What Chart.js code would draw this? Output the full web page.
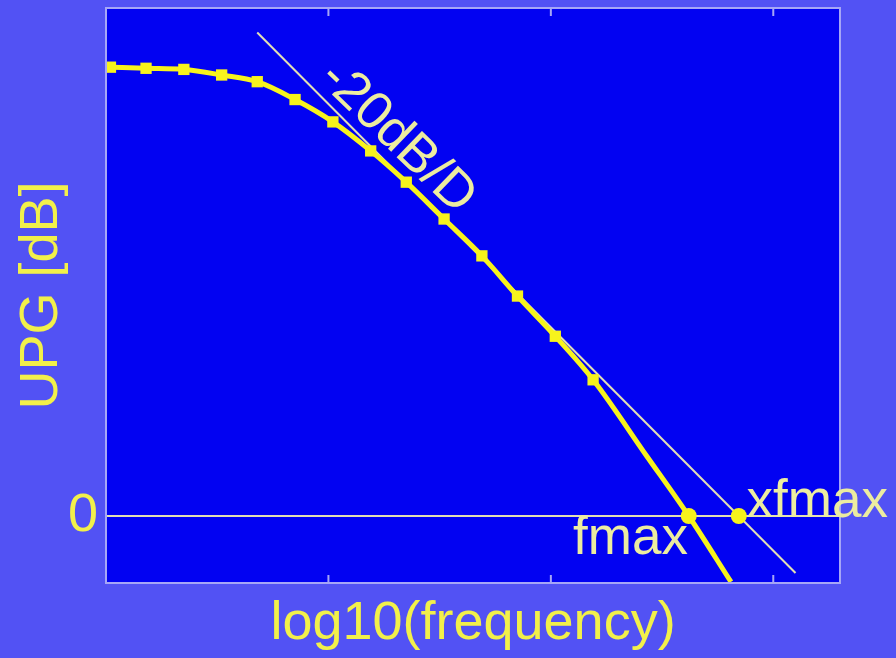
<!DOCTYPE html>
<html>
<head>
<meta charset="utf-8">
<script src="https://cdn.jsdelivr.net/npm/chart.js@4.4.1/dist/chart.umd.min.js"></script>
<style>
  html, body { margin: 0; padding: 0; background: #5252f4; }
  #wrap { width: 896px; height: 658px; }
</style>
</head>
<body>
<div id="wrap"><canvas id="upgChart" width="896" height="658"></canvas></div>
<script>
// log10(frequency) in decades from the left edge, UPG in dB
const curveX = [0.02, 0.18, 0.35, 0.52, 0.68, 0.85, 1.02, 1.19, 1.35, 1.52, 1.69, 1.85, 2.02, 2.19, 2.43, 2.62, 2.81];
const curveY = [40.2, 40.1, 40.0, 39.5, 38.9, 37.3, 35.3, 32.7, 29.9, 26.6, 23.3, 19.7, 16.1, 12.2, 5.4, 0, -5.9];
const curveMarked = 14; // first points carry square markers

const slopeX = [0.68, 3.10];     // -20 dB/decade asymptote
const slopeY = [43.3, -5.1];

const zeroX = [0, 3.3];
const zeroY = [0, 0];

const crossNames = ['fmax', 'xfmax'];
const crossX = [2.62, 2.845];
const crossY = [0, 0];

const xTicks = [1, 2, 3];
const yTicks = [0];

const FONT = '"Liberation Sans", Arial, sans-serif';
const AXIS_TEXT = '#f2f04a';
const NOTE_TEXT = '#ececa0';
const YELLOW = '#f7f31c';
const PALE = '#e2e0b4';

const toPts = (xs, ys) => xs.map((x, i) => ({ x: x, y: ys[i] }));

// text notes placed in data units
const notes = [
    { text: '-20dB/D', x: 1.31, y: 33.9, rot: 44, align: 'center', base: 'middle' },
    { text: crossNames[0], x: 2.10, y: -3.4, rot: 0, align: 'left', base: 'alphabetic' },
    { text: crossNames[1], x: 2.88, y: -0.1, rot: 0, align: 'left', base: 'alphabetic' }
];

const framePlugin = {
    id: 'frame',
    beforeDraw(chart) {
        const { ctx, chartArea: a } = chart;
        ctx.save();
        ctx.fillStyle = '#5252f4';
        ctx.fillRect(0, 0, chart.width, chart.height);
        ctx.fillStyle = '#0202f2';
        ctx.fillRect(a.left, a.top, a.right - a.left, a.bottom - a.top);
        ctx.restore();
    },
    afterDatasetsDraw(chart) {
        const { ctx, chartArea: a, scales } = chart;
        ctx.save();
        // inward tick marks, top and bottom
        ctx.strokeStyle = '#a6a6f6';
        ctx.lineWidth = 2;
        xTicks.forEach(v => {
            const px = scales.x.getPixelForValue(v);
            ctx.beginPath();
            ctx.moveTo(px, a.bottom); ctx.lineTo(px, a.bottom - 8);
            ctx.moveTo(px, a.top); ctx.lineTo(px, a.top + 8);
            ctx.stroke();
        });
        ctx.strokeRect(a.left, a.top, a.right - a.left, a.bottom - a.top);

        ctx.font = '53px ' + FONT;
        ctx.fillStyle = NOTE_TEXT;
        notes.forEach(n => {
            ctx.save();
            ctx.translate(scales.x.getPixelForValue(n.x), scales.y.getPixelForValue(n.y));
            ctx.rotate(n.rot * Math.PI / 180);
            ctx.textAlign = n.align;
            ctx.textBaseline = n.base;
            ctx.fillText(n.text, 0, 0);
            ctx.restore();
        });
        ctx.restore();
    }
};

const ctx = document.getElementById('upgChart').getContext('2d');
new Chart(ctx, {
    type: 'scatter',
    data: {
        datasets: [
            {
                label: 'crossings',
                data: toPts(crossX, crossY),
                showLine: false,
                pointStyle: 'circle',
                pointRadius: 8,
                backgroundColor: YELLOW,
                borderColor: YELLOW,
                borderWidth: 0
            },
            {
                label: 'UPG',
                data: toPts(curveX, curveY),
                showLine: true,
                borderColor: YELLOW,
                borderWidth: 5,
                cubicInterpolationMode: 'monotone',
                pointStyle: 'rect',
                pointRadius: curveX.map((_, i) => i < curveMarked ? 8 : 0),
                backgroundColor: YELLOW,
                pointBorderWidth: 0
            },
            {
                label: '-20dB/D',
                data: toPts(slopeX, slopeY),
                showLine: true,
                borderColor: PALE,
                borderWidth: 2,
                pointRadius: 0
            },
            {
                label: 'zero',
                data: toPts(zeroX, zeroY),
                showLine: true,
                borderColor: PALE,
                borderWidth: 2,
                pointRadius: 0
            }
        ]
    },
    options: {
        responsive: false,
        animation: false,
        layout: { padding: { top: 8, right: 56, left: 0, bottom: 0 } },
        plugins: {
            legend: { display: false },
            tooltip: { enabled: false }
        },
        scales: {
            x: {
                type: 'linear',
                min: 0,
                max: 3.3,
                grid: { display: false },
                border: { display: false },
                ticks: { display: false },
                title: {
                    display: true,
                    text: 'log10(frequency)',
                    color: AXIS_TEXT,
                    font: { family: FONT, size: 54 },
                    padding: { top: 0, bottom: 1 }
                },
                afterFit(scale) {
                    scale.height = 75;
                    scale.paddingLeft = 0;
                    scale.paddingRight = 0;
                }
            },
            y: {
                type: 'linear',
                min: -6,
                max: 45.5,
                grid: { display: false, drawTicks: false },
                border: { display: false },
                afterBuildTicks(scale) {
                    scale.ticks = yTicks.map(v => ({ value: v }));
                },
                ticks: {
                    color: AXIS_TEXT,
                    font: { family: FONT, size: 54 },
                    padding: 8
                },
                title: {
                    display: true,
                    text: 'UPG [dB]',
                    color: AXIS_TEXT,
                    font: { family: FONT, size: 54 },
                    padding: { top: 10, bottom: 0 }
                },
                afterFit(scale) {
                    scale.width = 106;
                    scale.paddingTop = 0;
                    scale.paddingBottom = 0;
                }
            }
        }
    },
    plugins: [framePlugin]
});
</script>
</body>
</html>
